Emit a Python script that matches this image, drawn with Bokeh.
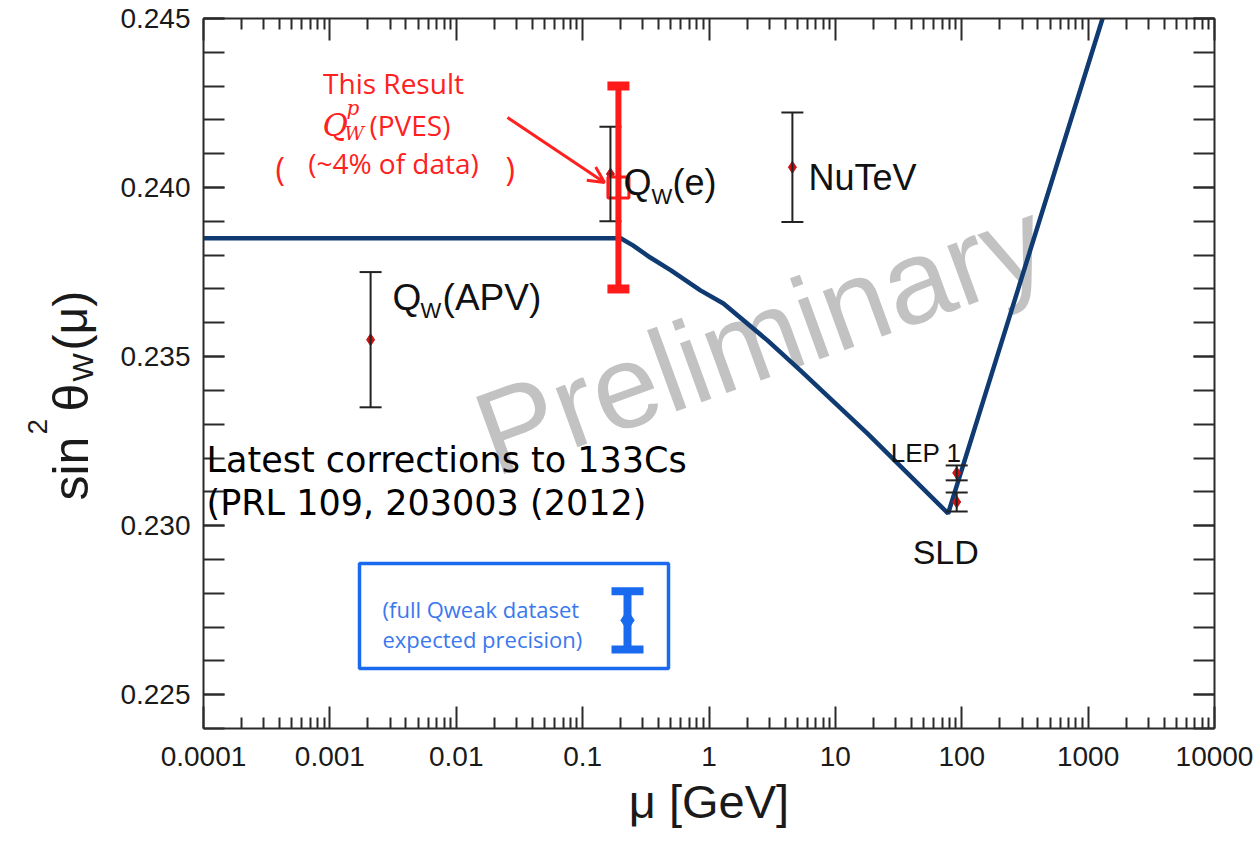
import math
from bokeh.plotting import figure
from bokeh.layouts import row
from bokeh.models import (Range1d, FixedTicker, CustomJSTickFormatter, LinearAxis, LogAxis,
                          Label, Whisker, TeeHead, ColumnDataSource, Arrow, OpenHead, BoxAnnotation)
from bokeh.embed import file_html
from bokeh.resources import INLINE

# ---------------- data ----------------
CURVE_MU = [1e-4, 0.2, 0.25, 0.343, 0.5, 0.855, 1.3, 2.9, 5.28, 17.9, 78.0, 1300.0, 2000.0]
CURVE_S2W = [0.2385, 0.2385, 0.23829, 0.23793, 0.23755, 0.23696, 0.23657, 0.23548, 0.23459,
             0.23273, 0.23036, 0.2450, 0.2472]

MEAS_NAMES = ["Q_W(APV)", "Q_W(e)", "NuTeV", "LEP 1", "SLD"]
MEAS_MU = [0.0021, 0.166, 4.57, 91.2, 91.2]
MEAS_S2W = [0.2355, 0.2404, 0.2406, 0.23156, 0.2307]
MEAS_ERR = [0.0020, 0.0014, 0.00162, 0.00022, 0.00028]

RESULT_MU = [0.192]
RESULT_S2W = [0.2400]
RESULT_ERR = [0.0030]

EXPECT_MU = [0.2265]
EXPECT_S2W = [0.2272]
EXPECT_ERR = [0.00086]

X_TICKS = [1e-4, 1e-3, 1e-2, 1e-1, 1, 10, 100, 1000, 10000]
Y_TICKS = [0.225, 0.230, 0.235, 0.240, 0.245]

# ---------------- layout ----------------
LEFT_W = 100                      # width of the side panel holding the y title
FL, FT, FW, FH = 203, 18, 1011, 710   # frame position on the page
X0, X1 = 1e-4, 1e4
Y0, Y1 = 0.224, 0.245


def at(X, Y):
    """page pixel position -> data coordinates (for annotation placement)"""
    return (10 ** (math.log10(X0) + (math.log10(X1) - math.log10(X0)) * (X - FL) / FW),
            Y1 - (Y - FT) / FH * (Y1 - Y0))


p = figure(width=1258 - LEFT_W, height=844, x_axis_type="log",
           x_range=Range1d(X0, X1), y_range=Range1d(Y0, Y1),
           output_backend="svg", toolbar_location=None,
           min_border_left=FL - LEFT_W, min_border_right=1258 - FL - FW,
           min_border_top=FT, min_border_bottom=844 - FT - FH)
p.xgrid.visible = False
p.ygrid.visible = False
p.outline_line_color = None
p.background_fill_color = "white"
p.border_fill_color = "white"

bottom = p.below[0]
left = p.left[0]
top = LogAxis()
right = LinearAxis()
p.add_layout(top, "above")
p.add_layout(right, "right")

x_minor = [k * 10 ** d for d in range(-4, 4) for k in range(2, 10)]
y_minor = [round(0.224 + 0.001 * i, 3) for i in range(22)]
xt = FixedTicker(ticks=X_TICKS, minor_ticks=x_minor)
yt = FixedTicker(ticks=Y_TICKS, minor_ticks=y_minor)

AX_COLOR = "#2b2b2b"
for ax in [bottom, top]:
    ax.ticker = xt
    ax.major_tick_in = 22
    ax.major_tick_out = 0
    ax.minor_tick_in = 11
    ax.minor_tick_out = 0
for ax in [left, right]:
    ax.ticker = yt
    ax.major_tick_in = 21
    ax.major_tick_out = 0
    ax.minor_tick_in = 21
    ax.minor_tick_out = 0
for ax in [bottom, top, left, right]:
    ax.axis_line_width = 2
    ax.axis_line_color = AX_COLOR
    ax.major_tick_line_width = 2
    ax.minor_tick_line_width = 2
    ax.major_tick_line_color = AX_COLOR
    ax.minor_tick_line_color = AX_COLOR
    ax.major_label_text_font = "Liberation Sans"
    ax.major_label_text_font_size = "28px"
    ax.major_label_text_color = "#1a1a1a"
for ax in [top, right]:
    ax.formatter = CustomJSTickFormatter(code="return ''")
    ax.major_label_standoff = 0

bottom.formatter = CustomJSTickFormatter(code="return Number(tick.toPrecision(6)).toString()")
bottom.major_label_standoff = 18
bottom.axis_label = "\u03bc [GeV]"
bottom.axis_label_text_font = "Liberation Sans"
bottom.axis_label_text_font_size = "47px"
bottom.axis_label_text_font_style = "normal"
bottom.axis_label_text_color = "#1a1a1a"
bottom.axis_label_standoff = 6
left.formatter = CustomJSTickFormatter(code="return tick.toFixed(3)")
left.major_label_standoff = 13


def txt(X, Y, s, size, color="#111111", font="Liberation Sans", style="normal",
        align="left", angle=0.0, baseline="alphabetic", level="annotation"):
    x, y = at(X, Y)
    p.add_layout(Label(x=x, y=y, text=s, text_font=font, text_font_size=f"{size}px",
                       text_color=color, text_font_style=style, text_align=align,
                       text_baseline=baseline, angle=angle, level=level))


def dlabel(mu, val, dx, dy, s, size, color="#111111", font="Liberation Sans"):
    p.add_layout(Label(x=mu, y=val, x_offset=dx, y_offset=dy, text=s, text_font=font,
                       text_font_size=f"{size}px", text_color=color,
                       text_align="left", text_baseline="alphabetic"))


# watermark (under the data)
txt(760, 336, "Preliminary", 119, color="#c2c2c2", align="center", baseline="middle",
    angle=math.radians(20), level="underlay")

# ---------------- curve ----------------
p.line(CURVE_MU, CURVE_S2W, line_color="#0f3b72", line_width=4.5)

# ---------------- measurements ----------------
meas = ColumnDataSource(dict(x=MEAS_MU, y=MEAS_S2W,
                             lo=[v - e for v, e in zip(MEAS_S2W, MEAS_ERR)],
                             hi=[v + e for v, e in zip(MEAS_S2W, MEAS_ERR)]))
p.add_layout(Whisker(source=meas, base="x", lower="lo", upper="hi", dimension="height",
                     line_color="#222222", line_width=2, level="glyph",
                     upper_head=TeeHead(size=22, line_width=2, line_color="#222222"),
                     lower_head=TeeHead(size=22, line_width=2, line_color="#222222")))
p.scatter("x", "y", source=meas, marker="diamond", size=12, fill_color="#c81414",
          line_color="#c81414")

res = ColumnDataSource(dict(x=RESULT_MU, y=RESULT_S2W,
                            lo=[v - e for v, e in zip(RESULT_S2W, RESULT_ERR)],
                            hi=[v + e for v, e in zip(RESULT_S2W, RESULT_ERR)]))
p.add_layout(Whisker(source=res, base="x", lower="lo", upper="hi", dimension="height",
                     line_color="#ff1a1a", line_width=6, level="glyph",
                     upper_head=TeeHead(size=22, line_width=9, line_color="#ff1a1a"),
                     lower_head=TeeHead(size=22, line_width=9, line_color="#ff1a1a")))
p.scatter("x", "y", source=res, marker="square", size=21, fill_color="white",
          line_color="#ff1a1a", line_width=3)

# ---------------- expected precision box ----------------
bl, bt = at(359, 563)
br, bb = at(668, 668)
p.add_layout(BoxAnnotation(left=bl, right=br, top=bt, bottom=bb, fill_alpha=0,
                           line_color="#1a6af0", line_alpha=1.0, line_width=3.5))
exp = ColumnDataSource(dict(x=EXPECT_MU, y=EXPECT_S2W,
                            lo=[v - e for v, e in zip(EXPECT_S2W, EXPECT_ERR)],
                            hi=[v + e for v, e in zip(EXPECT_S2W, EXPECT_ERR)]))
p.add_layout(Whisker(source=exp, base="x", lower="lo", upper="hi", dimension="height",
                     line_color="#1a6af0", line_width=8, level="glyph",
                     upper_head=TeeHead(size=32, line_width=8, line_color="#1a6af0"),
                     lower_head=TeeHead(size=32, line_width=8, line_color="#1a6af0")))
p.scatter("x", "y", source=exp, marker="diamond", size=20, fill_color="#1a6af0",
          line_color="#1a6af0")
txt(382, 608, "(full Qweak dataset", 22, color="#3a78ee", font="Open Sans")
txt(382, 638, "expected precision)", 22, color="#3a78ee", font="Open Sans")

# ---------------- measurement labels ----------------
# Q_W(APV)
dlabel(MEAS_MU[0], MEAS_S2W[0], 22, 42, "Q", 37)
dlabel(MEAS_MU[0], MEAS_S2W[0], 50, 29, "W", 22)
dlabel(MEAS_MU[0], MEAS_S2W[0], 72, 42, "(APV)", 37)
# Q_W(e)
dlabel(MEAS_MU[1], MEAS_S2W[1], 13, -8, "Q", 36)
dlabel(MEAS_MU[1], MEAS_S2W[1], 41, -22, "W", 22)
dlabel(MEAS_MU[1], MEAS_S2W[1], 62, -8, "(e)", 36)
# NuTeV
dlabel(MEAS_MU[2], MEAS_S2W[2], 16, -10, "NuTeV", 36)
# LEP 1 / SLD
dlabel(MEAS_MU[3], MEAS_S2W[3], -66, 20, "LEP 1", 26)
dlabel(MEAS_MU[4], MEAS_S2W[4], -44, -50, "SLD", 34)

# ---------------- red annotation ----------------
RED = "#ff2020"
txt(393, 82, "This Result", 28, color=RED, font="Open Sans", align="center")
txt(322, 124, "Q", 31, color=RED, font="DejaVu Serif", style="italic")
txt(346, 107, "p", 20, color=RED, font="DejaVu Serif", style="italic")
txt(344, 132, "W", 19, color=RED, font="DejaVu Serif", style="italic")
txt(369, 124, "(PVES)", 28, color=RED, font="Open Sans")
txt(393, 162, "(~4% of data)", 28, color=RED, font="Open Sans", align="center")
txt(275, 168, "(", 32, color=RED, font="Open Sans")
txt(505, 168, ")", 32, color=RED, font="Open Sans")
ax0, ay0 = at(507, 117)
ax1, ay1 = at(604, 182)
p.add_layout(Arrow(x_start=ax0, y_start=ay0, x_end=ax1, y_end=ay1,
                   line_color=RED, line_width=3,
                   end=OpenHead(size=16, line_color=RED, line_width=3)))

# ---------------- APV note ----------------
txt(206, 459, "Latest corrections to 133Cs", 35, color="#000000", font="DejaVu Sans")
txt(206, 502, "(PRL 109, 203003 (2012)", 35, color="#000000", font="DejaVu Sans")

# ---------------- y title in a side panel (frame aligned with the main one) ----------------
side = figure(width=LEFT_W, height=844,
              x_range=Range1d(0, LEFT_W), y_range=Range1d(844 - (FT + FH), 844 - FT),
              output_backend="svg", toolbar_location=None,
              x_axis_location=None, y_axis_location=None,
              min_border_left=0, min_border_right=0,
              min_border_top=FT, min_border_bottom=844 - FT - FH)
side.title.visible = False
side.xgrid.visible = False
side.ygrid.visible = False
side.outline_line_color = None
side.background_fill_color = "white"
side.border_fill_color = "white"

YT_TEXT = ["sin", "2", "\u03b8", "W", "(\u03bc)"]
YT_X = [70, 37, 70, 82, 70]
YT_Y = [500, 434, 411, 381, 350]
YT_SIZE = [50, 28, 50, 30, 48]
for s, X, Y, sz in zip(YT_TEXT, YT_X, YT_Y, YT_SIZE):
    side.add_layout(Label(x=X, y=844 - Y, text=s, text_font="Liberation Sans",
                          text_font_size=f"{sz}px", text_color="#1a1a1a",
                          text_align="left", text_baseline="alphabetic", angle=math.pi / 2))

layout = row(side, p, spacing=0)
open("out.html", "w").write(file_html(layout, INLINE))
